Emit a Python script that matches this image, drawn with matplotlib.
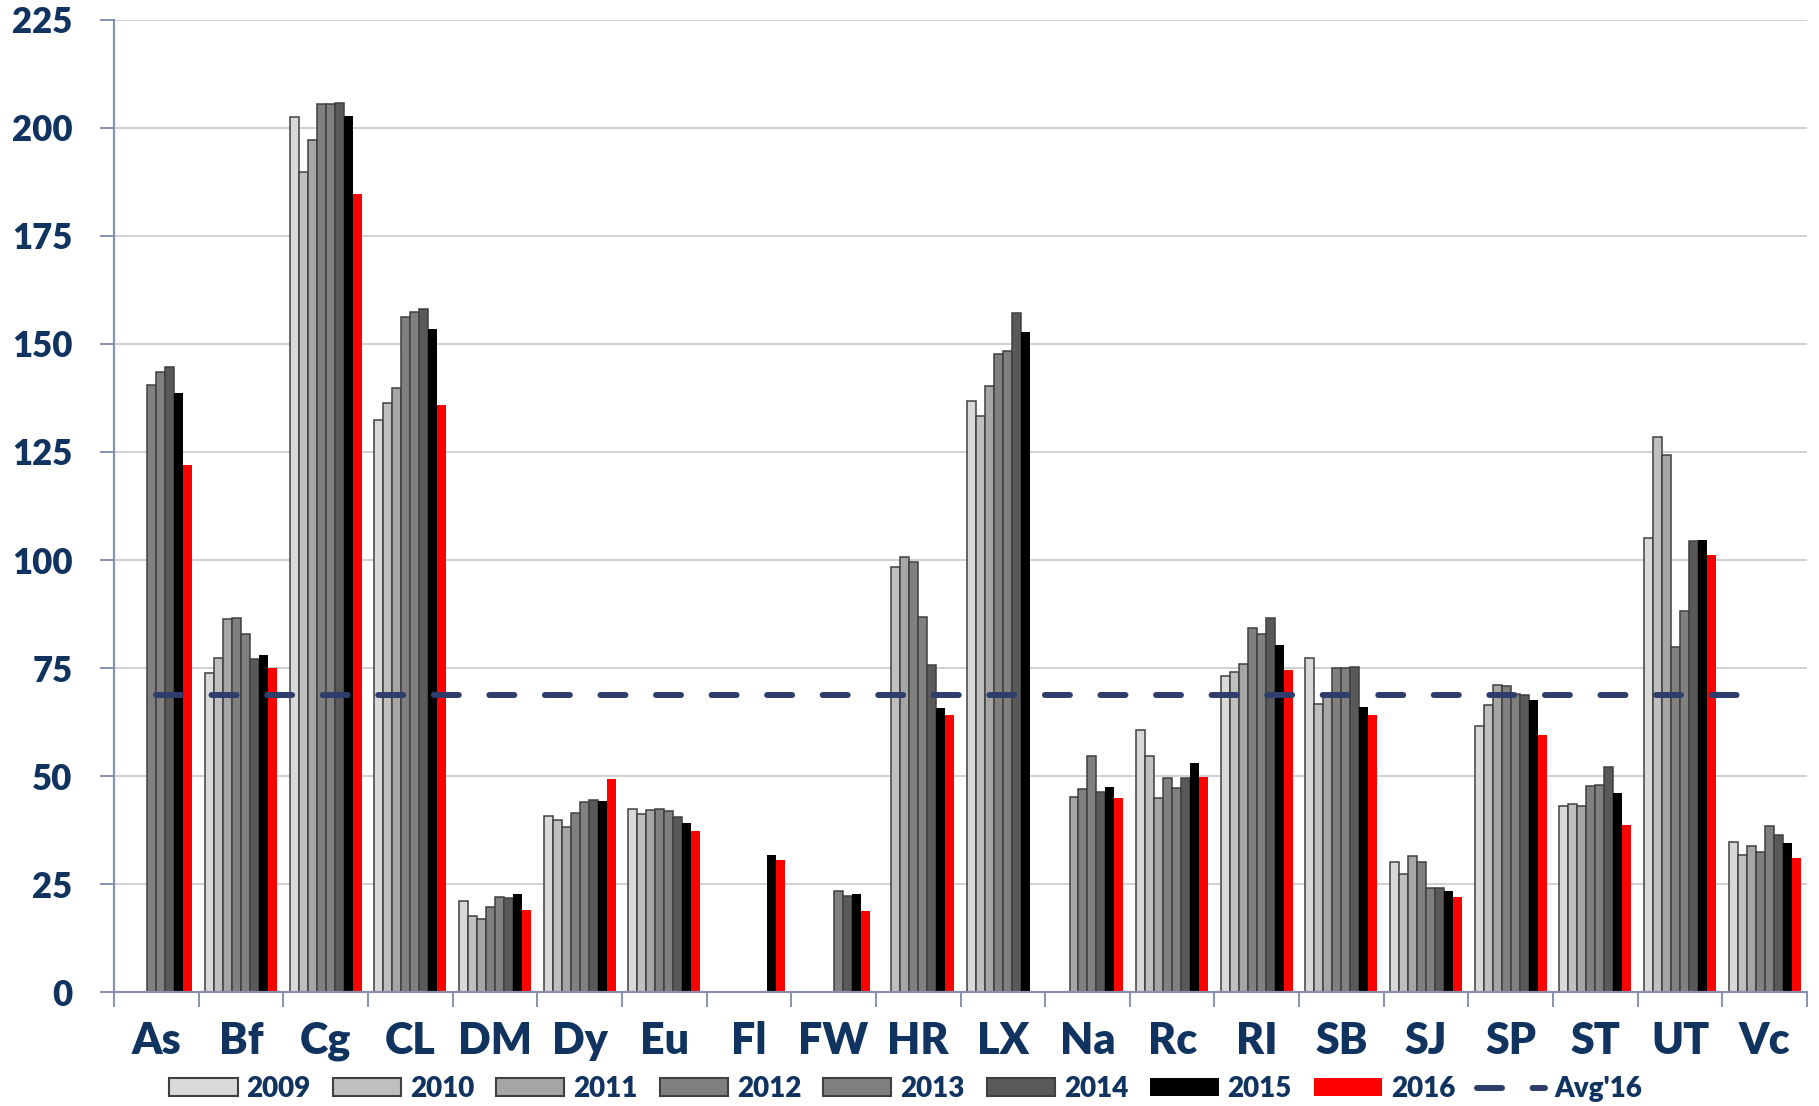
import numpy as np
import matplotlib
matplotlib.use("Agg")
import matplotlib.pyplot as plt
from matplotlib.patches import Patch
from matplotlib.lines import Line2D

nan = np.nan

# categories and yearly values (nan = no bar)
sites = ["As", "Bf", "Cg", "CL", "DM", "Dy", "Eu", "Fl", "FW", "HR",
         "LX", "Na", "Rc", "RI", "SB", "SJ", "SP", "ST", "UT", "Vc"]
years = ["2009", "2010", "2011", "2012", "2013", "2014", "2015", "2016"]

v2009 = [nan, 73.8, 202.6, 132.3, 21.0, 40.8, 42.4, nan, nan, nan,
         136.8, nan, 60.7, 73.2, 77.3, 30.0, 61.6, 43.0, 105.0, 34.8]
v2010 = [nan, 77.3, 189.8, 136.4, 17.5, 39.9, 41.1, nan, nan, 98.3,
         133.3, nan, 54.7, 74.0, 66.7, 27.4, 66.5, 43.6, 128.4, 31.8]
v2011 = [nan, 86.4, 197.3, 139.9, 16.8, 38.3, 42.1, nan, nan, 100.6,
         140.2, 45.2, 45.0, 76.0, 68.8, 31.4, 71.1, 43.0, 124.3, 33.8]
v2012 = [140.4, 86.5, 205.6, 156.3, 19.8, 41.5, 42.4, nan, nan, 99.6,
         147.6, 47.1, 49.5, 84.3, 74.9, 30.0, 70.9, 47.6, 79.9, 32.5]
v2013 = [143.5, 82.9, 205.6, 157.5, 21.9, 44.1, 41.9, nan, 23.5, 86.7,
         148.4, 54.6, 47.2, 82.9, 74.9, 24.0, 69.0, 48.0, 88.3, 38.4]
v2014 = [144.6, 77.2, 205.8, 158.2, 21.7, 44.4, 40.6, nan, 22.3, 75.7,
         157.1, 46.3, 49.5, 86.5, 75.3, 24.2, 68.8, 52.1, 104.4, 36.3]
v2015 = [138.7, 78.0, 202.7, 153.5, 22.6, 44.2, 39.2, 31.7, 22.6, 65.8,
         152.7, 47.5, 53.0, 80.3, 65.9, 23.5, 67.7, 46.0, 104.7, 34.6]
v2016 = [121.9, 75.1, 184.8, 135.9, 18.9, 49.3, 37.2, 30.6, 18.7, 64.2,
         nan, 44.9, 49.8, 74.5, 64.2, 22.0, 59.5, 38.7, 101.1, 31.0]
avg16 = 68.8

series = [v2009, v2010, v2011, v2012, v2013, v2014, v2015, v2016]
colors = ["#d9d9d9", "#bfbfbf", "#a6a6a6", "#808080", "#808080", "#595959", "#000000", "#ff0000"]
edges = ["#404040"] * 6 + ["none", "none"]

navy = "#10335f"
wt = "heavy"
plt.rcParams["font.family"] = ["Lato", "DejaVu Sans"]
plt.rcParams["font.weight"] = wt

fig = plt.figure(figsize=(18.19, 11.06), dpi=100)
ax = fig.add_axes([0.0627, 0.103, 0.9307, 0.879])

x = np.arange(len(sites))
n = len(series)
group = 0.85
w = group / n
for i, vals in enumerate(series):
    pos = x - group / 2 + w * (i + 0.5)
    ax.bar(pos, vals, width=w, color=colors[i], edgecolor=edges[i],
           linewidth=1.1, zorder=2)

lw_avg = 4.3
ax.plot([x[0], x[-1]], [avg16, avg16], color="#2e3d6b", lw=lw_avg,
        dashes=(18 / lw_avg, 22 / lw_avg), dash_capstyle="round", zorder=3)

ax.set_xlim(-0.5, len(sites) - 0.5)
ax.set_ylim(0, 225)
ax.set_yticks(np.arange(0, 226, 25))
ax.yaxis.grid(True, color="#d0d0d0", lw=1.4, zorder=0)
ax.set_axisbelow(True)

ax.set_xticks(x)
ax.set_xticklabels(sites, fontsize=31, color=navy, fontweight=wt)
ax.set_xticks(np.arange(-0.5, len(sites)), minor=True)
ax.tick_params(axis="x", which="major", length=0, pad=21)
ax.tick_params(axis="x", which="minor", length=11, width=1.4, color="#8792aa")
ax.tick_params(axis="y", length=10, width=1.4, color="#8792aa", pad=20,
               labelsize=25, labelcolor=navy)
for lab in ax.get_yticklabels():
    lab.set_fontweight(wt)

for s in ["top", "right"]:
    ax.spines[s].set_visible(False)
for s in ["left", "bottom"]:
    ax.spines[s].set_color("#8792aa")
    ax.spines[s].set_linewidth(1.6)

handles = [Patch(facecolor=colors[i], edgecolor=edges[i], linewidth=1.5) for i in range(n)]
handles.append(Line2D([0], [0], color="#2e3d6b", lw=lw_avg,
                      dashes=(18 / lw_avg, 22 / lw_avg), dash_capstyle="round"))
labels = years + ["Avg'16"]
leg = fig.legend(handles, labels, loc="center", bbox_to_anchor=(0.498, 0.0154),
                 ncol=9, frameon=False, fontsize=20, handlelength=2.45,
                 handleheight=0.6, handletextpad=0.32, columnspacing=0.8,
                 borderaxespad=0)
for t in leg.get_texts():
    t.set_color(navy)
    t.set_fontweight(wt)

fig.savefig("out.png", dpi=100)
